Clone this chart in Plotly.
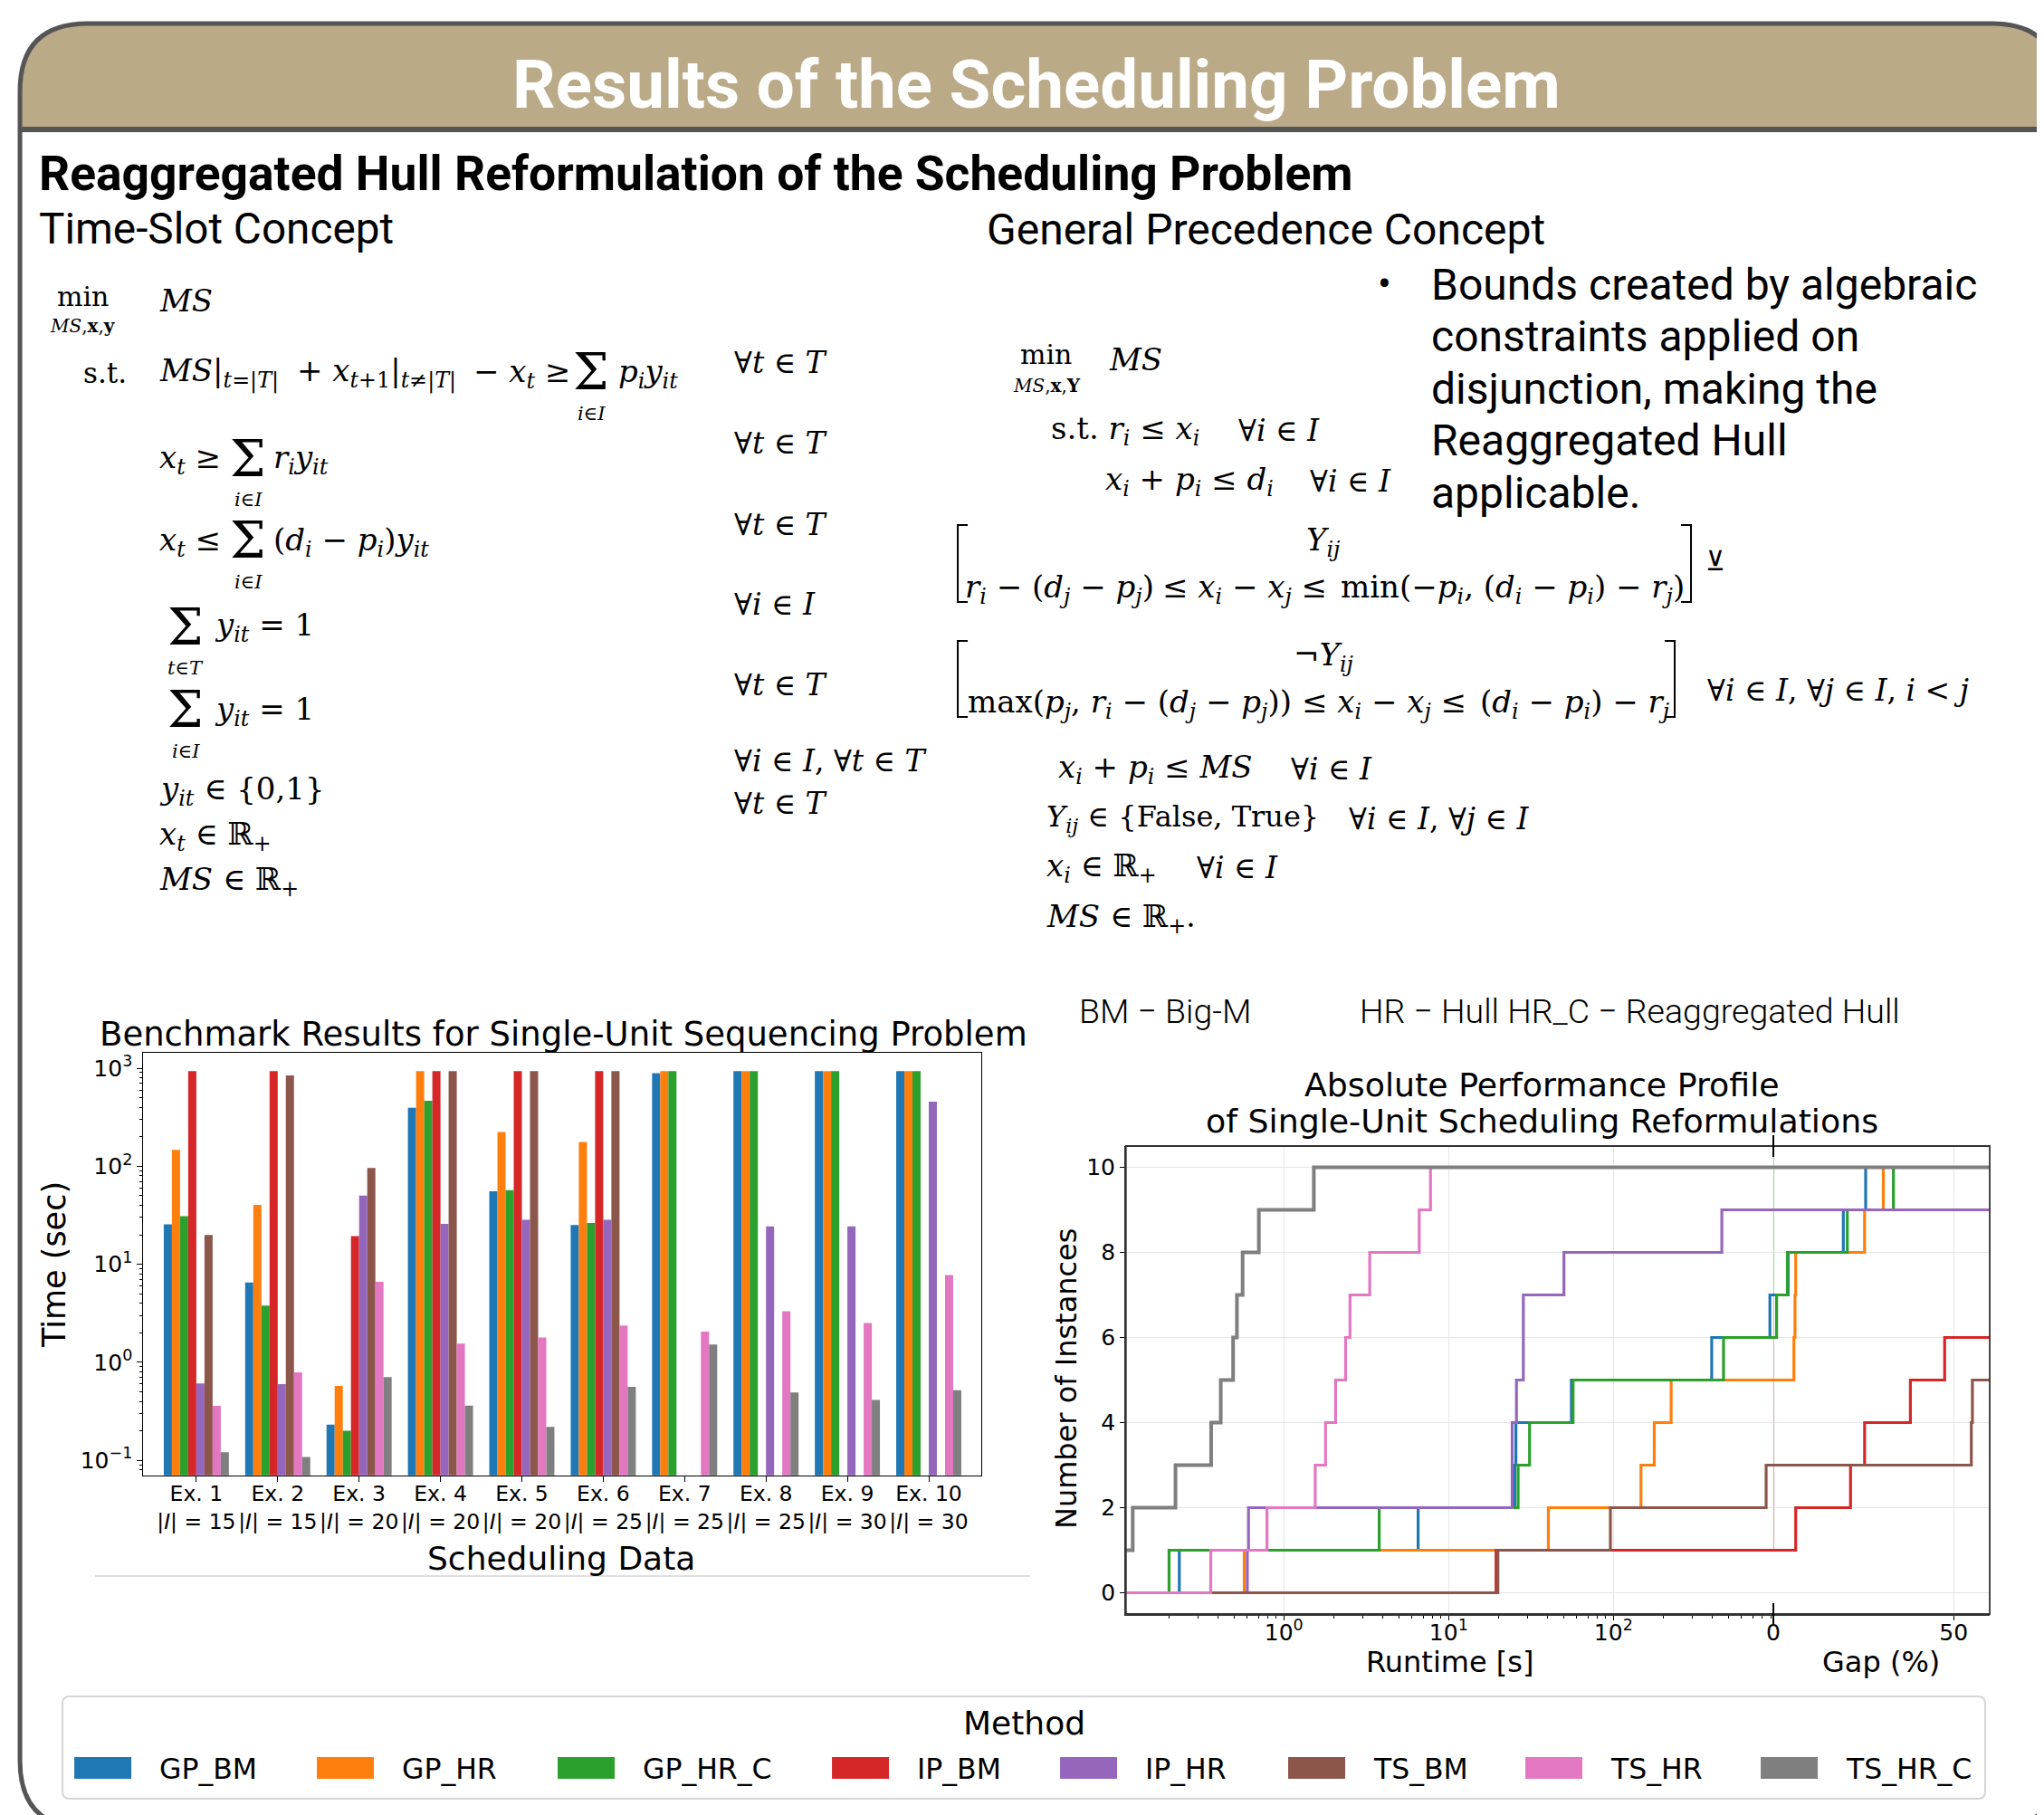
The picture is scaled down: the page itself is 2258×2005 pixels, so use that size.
import plotly.graph_objects as go

W, H = 2258, 2005
OFF = 8   # page body margin compensation
KX = 8    # small horizontal drift compensation

# ---------------- data ----------------
methods = ["GP_BM", "GP_HR", "GP_HR_C", "IP_BM", "IP_HR", "TS_BM", "TS_HR", "TS_HR_C"]
colors = ["#1f77b4", "#ff7f0e", "#2ca02c", "#d62728", "#9467bd", "#8c564b", "#e377c2", "#7f7f7f"]
examples = ["Ex. 1", "Ex. 2", "Ex. 3", "Ex. 4", "Ex. 5", "Ex. 6", "Ex. 7", "Ex. 8", "Ex. 9", "Ex. 10"]
n_jobs = [15, 15, 20, 20, 20, 25, 25, 25, 30, 30]

# solution times in seconds (None = no result)
gp_bm = [25.6, 6.53, 0.232, 395, 55.6, 25.2, 891, 933, 933, 933]
gp_hr = [147, 40.3, 0.575, 933, 224, 177, 933, 933, 933, 933]
gp_hr_c = [31.0, 3.79, 0.201, 466, 56.9, 26.4, 933, 933, 933, 933]
ip_bm = [933, 933, 19.4, 933, 933, 933, None, None, None, None]
ip_hr = [0.61, 0.60, 50.1, 25.8, 28.4, 28.4, None, 24.3, 24.3, 455]
ts_bm = [19.9, 845, 95.9, 933, 933, 933, None, None, None, None]
ts_hr = [0.36, 0.79, 6.63, 1.55, 1.79, 2.37, 2.06, 3.32, 2.52, 7.76]
ts_hr_c = [0.121, 0.108, 0.705, 0.362, 0.22, 0.562, 1.52, 0.492, 0.414, 0.519]
times = [gp_bm, gp_hr, gp_hr_c, ip_bm, ip_hr, ts_bm, ts_hr, ts_hr_c]

# optimality gaps (%) of instances that hit the time limit
gp_bm_gap = [4.1, 19.4, 25.6]
gp_hr_gap = [5.7, 6.0, 6.2, 25.3, 30.5]
gp_hr_c_gap = [0.9, 3.9, 20.5, 33.3]
ip_bm_gap = [6.2, 21.4, 25.3, 38.0, 47.5]
ip_hr_gap = []
ts_bm_gap = [54.9, 55.2]
ts_hr_gap = []
ts_hr_c_gap = []
gaps = [gp_bm_gap, gp_hr_gap, gp_hr_c_gap, ip_bm_gap, ip_hr_gap, ts_bm_gap, ts_hr_gap, ts_hr_c_gap]

TIME_LIMIT = 900
RT_MIN, RT_MAX = 0.110, 935
GAP_MAX = 60

# ---------------- helpers ----------------
def fx(px):
    return (px - OFF - KX * (1 - px / W)) / W

def fy(py):
    return 1 - (py - OFF) / H

SERIF = "DejaVu Serif"
SANS = "DejaVu Sans"
ROBOTO = "Roboto"

annotations = []
shapes = []

def T(x, y, text, size, family=SERIF, xanchor="left", yanchor="middle", color="black", angle=0, weight=None):
    f = dict(size=size, family=family, color=color)
    if weight:
        f["weight"] = weight
    annotations.append(dict(x=fx(x), y=fy(y), xref="paper", yref="paper", text=text,
                            showarrow=False, font=f, align="center",
                            xanchor=xanchor, yanchor=yanchor, textangle=angle, borderpad=0,
                            borderwidth=0))

SIG = 56
def SUM(x, yc, sub):
    # display-style sum with its index set underneath
    T(x, yc - 1, "Σ", SIG, xanchor="center")
    T(x, yc + 45, sub, 21, xanchor="center")

def P(x, y):
    return f"{fx(x):.5f},{fy(y):.5f}"

fig = go.Figure()

# ---------------- bar chart ----------------
xlabels = [f"{e}<br>|<i>I</i>| = {n}" for e, n in zip(examples, n_jobs)]
for m, c, t in zip(methods, colors, times):
    fig.add_trace(go.Bar(x=xlabels, y=t, name=m, marker=dict(color=c, line=dict(width=0)),
                         xaxis="x", yaxis="y", showlegend=False))

# ---------------- performance profile ----------------
for m, c, t, g in zip(methods, colors, times, gaps):
    solved = sorted(v for v in t if v is not None and v < TIME_LIMIT)
    n = len(solved)
    xs = [RT_MIN] + solved + [RT_MAX]
    ys = [0] + list(range(1, n + 1)) + [n]
    w = 4 if m == "TS_HR_C" else 3.2
    fig.add_trace(go.Scatter(x=xs, y=ys, mode="lines", line=dict(color=c, width=w, shape="hv"),
                             xaxis="x2", yaxis="y2", showlegend=False, name=m))
    gx = [0] + sorted(g) + [GAP_MAX]
    gy = [n] + list(range(n + 1, n + len(g) + 1)) + [n + len(g)]
    fig.add_trace(go.Scatter(x=gx, y=gy, mode="lines", line=dict(color=c, width=w, shape="hv"),
                             xaxis="x3", yaxis="y2", showlegend=False, name=m))

axfont = dict(family=SANS, size=25, color="black")
barxfont = dict(family=SANS, size=23.5, color="black")
pow10 = lambda p: "10<sup>" + ("−" if p < 0 else "") + str(abs(p)) + "</sup>"

fig.update_layout(
    width=W, height=H, margin=dict(l=0, r=0, t=0, b=0), autosize=False,
    paper_bgcolor="white", plot_bgcolor="white",
    barmode="group", bargap=0.2, bargroupgap=0,
    font=dict(family=SANS, color="black"),
    xaxis=dict(domain=[fx(158.4), fx(1084.4)], anchor="y", range=[-0.65, 9.65], tickangle=0,
               showline=True, linecolor="black", linewidth=1.3, mirror=True, ticklabelstandoff=-7,
               ticks="outside", ticklen=6, tickcolor="black", tickfont=barxfont, showgrid=False),
    yaxis=dict(domain=[fy(1629.8), fy(1162.7)], anchor="x", type="log", range=[-1.153, 3.16],
               tickvals=[0.1, 1, 10, 100, 1000], ticktext=[pow10(p) for p in [-1, 0, 1, 2, 3]],
               showline=True, linecolor="black", linewidth=1.3, mirror=True,
               ticks="outside", ticklen=6, tickcolor="black", tickfont=axfont, showgrid=False,
               minor=dict(ticks="outside", ticklen=3, tickcolor="black", dtick="D1", showgrid=False)),
    xaxis2=dict(domain=[fx(1243.75), fx(1959)], anchor="y2", type="log", range=[-0.9586, 2.9708],
                tickvals=[1, 10, 100], ticktext=[pow10(p) for p in [0, 1, 2]],
                showline=True, linecolor="#333", linewidth=1.5, ticklabelstandoff=-8,
                ticks="outside", ticklen=5, tickcolor="black", tickfont=axfont,
                showgrid=True, gridcolor="#e6e6e6", gridwidth=1, zeroline=False,
                minor=dict(ticks="outside", ticklen=3, tickcolor="black", dtick="D1", showgrid=False)),
    xaxis3=dict(domain=[fx(1959), fx(2198)], anchor="y2", range=[0, GAP_MAX],
                tickvals=[0, 50], showline=True, linecolor="#333", linewidth=1.5, ticklabelstandoff=-8,
                ticks="outside", ticklen=5, tickcolor="black", tickfont=axfont,
                showgrid=True, gridcolor="#e6e6e6", gridwidth=1, zeroline=False),
    yaxis2=dict(domain=[fy(1783), fy(1266)], anchor="x2", range=[-0.5, 10.5],
                tickvals=[0, 2, 4, 6, 8, 10], showline=True, linecolor="#333", linewidth=1.5,
                ticks="outside", ticklen=5, tickcolor="black", tickfont=axfont,
                showgrid=True, gridcolor="#e6e6e6", gridwidth=1, zeroline=False),
)

# profile box + broken-axis marks + connectors at gap 0
shapes.append(dict(type="rect", xref="paper", yref="paper", x0=fx(1243.75), x1=fx(2198),
                   y0=fy(1783), y1=fy(1266), line=dict(color="#333", width=1.8), layer="above"))
for y0, y1 in [(1254, 1278), (1771, 1795)]:
    shapes.append(dict(type="line", xref="paper", yref="paper", x0=fx(1959), x1=fx(1959),
                       y0=fy(y0), y1=fy(y1), line=dict(color="black", width=2)))
for c, a, b in [("#d62728", 1, 3), ("#8c564b", 3, 6), ("#2ca02c", 6, 10.5)]:
    shapes.append(dict(type="line", xref="x3", yref="y2", x0=0, x1=0, y0=a, y1=b,
                       line=dict(color=c, width=1.5), opacity=0.6, layer="below"))

# ---------------- poster frame / header ----------------
r = 75
L, R, TOP, BOT = 22, 2275, 26, 2020
band = (f"M {P(L,144)} L {P(L,TOP+r)} Q {P(L,TOP)} {P(L+r,TOP)} L {P(R-r,TOP)} "
        f"Q {P(R,TOP)} {P(R,TOP+r)} L {P(R,144)} Z")
shapes.append(dict(type="path", xref="paper", yref="paper", path=band,
                   fillcolor="#BBAA88", line=dict(width=0), layer="below"))
frame = (f"M {P(L,BOT-r)} L {P(L,TOP+r)} Q {P(L,TOP)} {P(L+r,TOP)} L {P(R-r,TOP)} "
         f"Q {P(R,TOP)} {P(R,TOP+r)} L {P(R,BOT-r)} Q {P(R,BOT)} {P(R-r,BOT)} "
         f"L {P(L+r,BOT)} Q {P(L,BOT)} {P(L,BOT-r)} Z")
shapes.append(dict(type="path", xref="paper", yref="paper", path=frame,
                   fillcolor="rgba(0,0,0,0)", line=dict(color="#555", width=5), layer="below"))
shapes.append(dict(type="line", xref="paper", yref="paper", x0=fx(L), x1=fx(R), y0=fy(143), y1=fy(143),
                   line=dict(color="#555", width=6), layer="below"))

T(1145, 94, "<b>Results of the Scheduling Problem</b>", 74.5, ROBOTO, "center", color="white")
T(43, 192, "<b>Reaggregated Hull Reformulation of the Scheduling Problem</b>", 53.4, ROBOTO)
T(43, 253, "Time-Slot Concept", 47.7, ROBOTO)
T(1090, 253, "General Precedence Concept", 48, ROBOTO)

bullet_lines = ["Bounds created by algebraic", "constraints applied on", "disjunction, making the",
                "Reaggregated Hull", "applicable."]
T(1529, 314, "•", 44, ROBOTO, "center")
for i, s in enumerate(bullet_lines):
    T(1581, 314 + i * 57.5, s, 48, ROBOTO)

# ---------------- time-slot formulation ----------------
MS = 34
T(91, 327, "min", 30, xanchor="center")
T(91, 360, "<i>MS</i>,<b>x</b>,<b>y</b>", 20, xanchor="center")
T(176, 332, "<i>MS</i>", MS)
T(92, 412, "s.t.", 31)
T(176, 412, "<i>MS</i>|<sub><i>t</i>=|<i>T</i>|</sub>", MS)
T(328, 412, "+ <i>x</i><sub><i>t</i>+1</sub>|<sub><i>t</i>≠|<i>T</i>|</sub>", MS)
T(523, 412, "− <i>x<sub>t</sub></i> ≥", MS)
SUM(653, 412, "<i>i</i>∈<i>I</i>")
T(683, 412, "<i>p<sub>i</sub>y<sub>it</sub></i>", MS)

T(176, 507, "<i>x<sub>t</sub></i> ≥", MS)
SUM(274, 507, "<i>i</i>∈<i>I</i>")
T(302, 507, "<i>r<sub>i</sub>y<sub>it</sub></i>", MS)

T(176, 598, "<i>x<sub>t</sub></i> ≤", MS)
SUM(274, 598, "<i>i</i>∈<i>I</i>")
T(302, 598, "(<i>d<sub>i</sub></i> − <i>p<sub>i</sub></i>)<i>y<sub>it</sub></i>", MS)

SUM(205, 693, "<i>t</i>∈<i>T</i>")
T(237, 693, "<i>y<sub>it</sub></i> = 1", MS)

SUM(205, 785, "<i>i</i>∈<i>I</i>")
T(237, 785, "<i>y<sub>it</sub></i> = 1", MS)

T(176, 873, "<i>y<sub>it</sub></i> ∈ {0,1}", MS)
T(176, 923, "<i>x<sub>t</sub></i> ∈ ℝ<sub>+</sub>", MS)
T(176, 973, "<i>MS</i> ∈ ℝ<sub>+</sub>", MS)

forall_ts = ["∀<i>t</i> ∈ <i>T</i>", "∀<i>t</i> ∈ <i>T</i>", "∀<i>t</i> ∈ <i>T</i>", "∀<i>i</i> ∈ <i>I</i>",
             "∀<i>t</i> ∈ <i>T</i>", "∀<i>i</i> ∈ <i>I</i>, ∀<i>t</i> ∈ <i>T</i>", "∀<i>t</i> ∈ <i>T</i>"]
for s, yy in zip(forall_ts, [400, 490, 579, 668, 756, 840, 887]):
    T(811, yy, s, 33)

# ---------------- general precedence formulation ----------------
T(1155, 392, "min", 30, xanchor="center")
T(1156, 426, "<i>MS</i>,<b>x</b>,<b>Y</b>", 20, xanchor="center")
T(1225, 397, "<i>MS</i>", MS)
T(1161, 475, "s.t. <i>r<sub>i</sub></i> ≤ <i>x<sub>i</sub></i>", MS)
T(1368, 475, "∀<i>i</i> ∈ <i>I</i>", 33)
T(1221, 531, "<i>x<sub>i</sub></i> + <i>p<sub>i</sub></i> ≤ <i>d<sub>i</sub></i>", MS)
T(1447, 531, "∀<i>i</i> ∈ <i>I</i>", 33)

T(1462, 598, "<i>Y<sub>ij</sub></i>", MS, xanchor="center")
T(1066, 650, "<i>r<sub>i</sub></i> − (<i>d<sub>j</sub></i> − <i>p<sub>j</sub></i>)", MS)
T(1284, 650, "≤ <i>x<sub>i</sub></i> − <i>x<sub>j</sub></i> ≤", MS)
T(1481, 650, "min(−<i>p<sub>i</sub></i>, (<i>d<sub>i</sub></i> − <i>p<sub>i</sub></i>) − <i>r<sub>j</sub></i>)", MS)
T(1895, 619, "⊻", 30, xanchor="center")
T(1462, 725, "¬<i>Y<sub>ij</sub></i>", MS, xanchor="center")
T(1069, 777, "max(<i>p<sub>j</sub></i>, <i>r<sub>i</sub></i> − (<i>d<sub>j</sub></i> − <i>p<sub>j</sub></i>))", MS)
T(1438, 777, "≤ <i>x<sub>i</sub></i> − <i>x<sub>j</sub></i> ≤", MS)
T(1635, 777, "(<i>d<sub>i</sub></i> − <i>p<sub>i</sub></i>) − <i>r<sub>j</sub></i>", MS)
T(1886, 762, "∀<i>i</i> ∈ <i>I</i>, ∀<i>j</i> ∈ <i>I</i>, <i>i</i> < <i>j</i>", 33)

T(1169, 849, "<i>x<sub>i</sub></i> + <i>p<sub>i</sub></i> ≤ <i>MS</i>", MS)
T(1426, 849, "∀<i>i</i> ∈ <i>I</i>", 33)
T(1156, 904, "<i>Y<sub>ij</sub></i> ∈ {False, True}", 32)
T(1490, 904, "∀<i>i</i> ∈ <i>I</i>, ∀<i>j</i> ∈ <i>I</i>", 33)
T(1156, 959, "<i>x<sub>i</sub></i> ∈ ℝ<sub>+</sub>", MS)
T(1322, 959, "∀<i>i</i> ∈ <i>I</i>", 33)
T(1156, 1014, "<i>MS</i> ∈ ℝ<sub>+</sub>.", MS)

def bracket(x, y0, y1, d):
    shapes.append(dict(type="path", xref="paper", yref="paper",
                       path=f"M {P(x+d,y0)} L {P(x,y0)} L {P(x,y1)} L {P(x+d,y1)}",
                       line=dict(color="black", width=2)))
bracket(1058, 580, 665, 11)
bracket(1868, 580, 665, -11)
bracket(1058, 708, 792, 11)
bracket(1850, 708, 792, -11)

# ---------------- chart titles / axis titles ----------------
T(622, 1142, "Benchmark Results for Single-Unit Sequencing Problem", 37, SANS, "center")
T(60, 1397, "Time (sec)", 35, SANS, "center", angle=-90)
T(620, 1721, "Scheduling Data", 36, SANS, "center")
shapes.append(dict(type="line", xref="paper", yref="paper", x0=fx(105), x1=fx(1138),
                   y0=fy(1741), y1=fy(1741), line=dict(color="#e0e0e0", width=2)))

T(1192, 1117, "BM − Big-M", 37.5, ROBOTO, weight=300)
T(1502, 1117, "HR − Hull HR_C − Reaggregated Hull", 37.5, ROBOTO, weight=300)
T(1703, 1198, "Absolute Performance Profile", 36.3, SANS, "center")
T(1703, 1238, "of Single-Unit Scheduling Reformulations", 36.3, SANS, "center")
T(1178, 1523, "Number of Instances", 32, SANS, "center", angle=-90)
T(1601, 1836, "Runtime [s]", 32, SANS, "center")
T(2078, 1836, "Gap (%)", 32, SANS, "center")

# ---------------- legend ----------------
lx0, lx1, ly0, ly1, lr = 69, 2193, 1874, 1987, 8
leg_path = (f"M {P(lx0+lr,ly0)} L {P(lx1-lr,ly0)} Q {P(lx1,ly0)} {P(lx1,ly0+lr)} L {P(lx1,ly1-lr)} "
            f"Q {P(lx1,ly1)} {P(lx1-lr,ly1)} L {P(lx0+lr,ly1)} Q {P(lx0,ly1)} {P(lx0,ly1-lr)} "
            f"L {P(lx0,ly0+lr)} Q {P(lx0,ly0)} {P(lx0+lr,ly0)} Z")
shapes.append(dict(type="path", xref="paper", yref="paper", path=leg_path,
                   fillcolor="white", line=dict(color="#d6d6d6", width=2), layer="below"))
T(1131, 1903, "Method", 36, SANS, "center")
patch_x = [82, 350, 616, 919, 1171, 1423, 1685, 1945]
for px, m, c in zip(patch_x, methods, colors):
    shapes.append(dict(type="rect", xref="paper", yref="paper", x0=fx(px), x1=fx(px + 63),
                       y0=fy(1965), y1=fy(1941), fillcolor=c, line=dict(width=0)))
    T(px + 94, 1954, m, 31.5, SANS)

fig.update_layout(annotations=annotations, shapes=shapes)
fig.write_html("out.html")
